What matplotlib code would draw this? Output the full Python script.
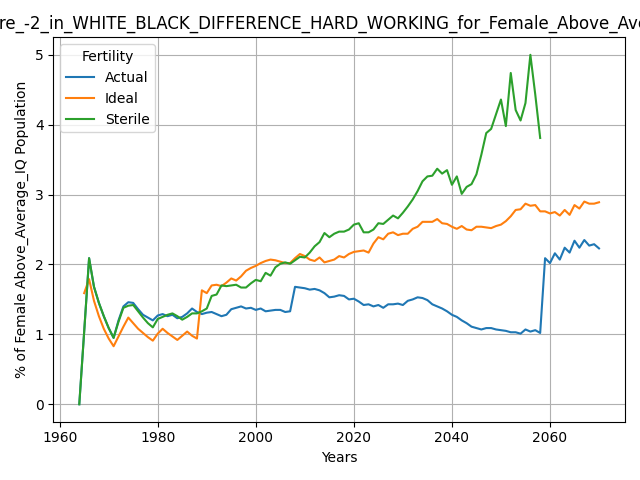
import numpy as np
import matplotlib
matplotlib.use("Agg")
import matplotlib.pyplot as plt

nan = np.nan

years = list(range(1964, 2071))

actual = [
    0.00, 1.04, 2.09, 1.68, 1.45, 1.26, 1.09, 0.95, 1.20, 1.40,   # 1964-1973
    1.46, 1.45, 1.36, 1.28, 1.24, 1.20, 1.27, 1.29, 1.26, 1.28,   # 1974-1983
    1.23, 1.25, 1.30, 1.37, 1.32, 1.29, 1.31, 1.32, 1.29, 1.26,   # 1984-1993
    1.28, 1.36, 1.38, 1.40, 1.37, 1.38, 1.35, 1.37, 1.33, 1.34,   # 1994-2003
    1.35, 1.35, 1.32, 1.33, 1.68, 1.67, 1.66, 1.64, 1.65, 1.63,   # 2004-2013
    1.59, 1.53, 1.54, 1.56, 1.55, 1.50, 1.51, 1.47, 1.42, 1.43,   # 2014-2023
    1.40, 1.42, 1.38, 1.43, 1.43, 1.44, 1.42, 1.48, 1.50, 1.53,   # 2024-2033
    1.52, 1.49, 1.43, 1.40, 1.37, 1.33, 1.28, 1.25, 1.20, 1.16,   # 2034-2043
    1.11, 1.09, 1.07, 1.09, 1.09, 1.07, 1.06, 1.05, 1.03, 1.03,   # 2044-2053
    1.01, 1.07, 1.04, 1.06, 1.02, 2.09, 2.02, 2.16, 2.07, 2.24,   # 2054-2063
    2.17, 2.34, 2.24, 2.35, 2.27, 2.29, 2.23,                     # 2064-2070
]

ideal = [
    nan, 1.59, 1.79, 1.48, 1.26, 1.08, 0.94, 0.83, 0.97, 1.11,
    1.24, 1.16, 1.08, 1.02, 0.96, 0.91, 1.01, 1.08, 1.02, 0.97,
    0.92, 0.98, 1.04, 0.98, 0.94, 1.63, 1.59, 1.70, 1.71, 1.69,
    1.74, 1.80, 1.77, 1.83, 1.91, 1.95, 1.98, 2.02, 2.05, 2.07,
    2.06, 2.04, 2.02, 2.02, 2.09, 2.15, 2.12, 2.07, 2.05, 2.10,
    2.03, 2.05, 2.07, 2.12, 2.10, 2.15, 2.18, 2.19, 2.20, 2.17,
    2.30, 2.39, 2.36, 2.44, 2.46, 2.42, 2.44, 2.44, 2.51, 2.54,
    2.61, 2.61, 2.61, 2.65, 2.59, 2.58, 2.54, 2.51, 2.55, 2.50,
    2.49, 2.54, 2.54, 2.53, 2.52, 2.55, 2.57, 2.62, 2.69, 2.78,
    2.79, 2.87, 2.84, 2.85, 2.76, 2.76, 2.73, 2.75, 2.70, 2.78,
    2.71, 2.85, 2.80, 2.90, 2.87, 2.87, 2.89,
]

sterile = [
    0.00, 1.04, 2.09, 1.68, 1.45, 1.26, 1.09, 0.95, 1.18, 1.38,
    1.41, 1.42, 1.33, 1.24, 1.16, 1.10, 1.22, 1.25, 1.28, 1.30,
    1.26, 1.21, 1.25, 1.30, 1.30, 1.33, 1.37, 1.55, 1.57, 1.70,
    1.69, 1.70, 1.71, 1.67, 1.67, 1.73, 1.78, 1.76, 1.88, 1.84,
    1.96, 2.01, 2.03, 2.01, 2.06, 2.11, 2.10, 2.17, 2.26, 2.32,
    2.45, 2.39, 2.44, 2.47, 2.47, 2.50, 2.57, 2.59, 2.46, 2.46,
    2.50, 2.59, 2.58, 2.64, 2.70, 2.66, 2.74, 2.83, 2.93, 3.05,
    3.19, 3.26, 3.27, 3.37, 3.30, 3.35, 3.14, 3.26, 3.01, 3.11,
    3.15, 3.29, 3.57, 3.88, 3.94, 4.15, 4.36, 3.98, 4.74, 4.21,
    4.06, 4.31, 5.00, 4.43, 3.81, nan, nan, nan, nan, nan,
    nan, nan, nan, nan, nan, nan, nan,
]

title = "Figure_-2_in_WHITE_BLACK_DIFFERENCE_HARD_WORKING_for_Female_Above_Average_IQ"

fig, ax = plt.subplots(figsize=(6.4, 4.8), dpi=100)
ax.plot(years, actual, label="Actual")
ax.plot(years, ideal, label="Ideal")
ax.plot(years, sterile, label="Sterile")
ax.set_title(title)
ax.set_xlabel("Years")
ax.set_ylabel("% of Female Above_Average_IQ Population")
ax.grid(True)
ax.legend(title="Fertility", loc="upper left")
fig.tight_layout()
fig.savefig("out.png")
